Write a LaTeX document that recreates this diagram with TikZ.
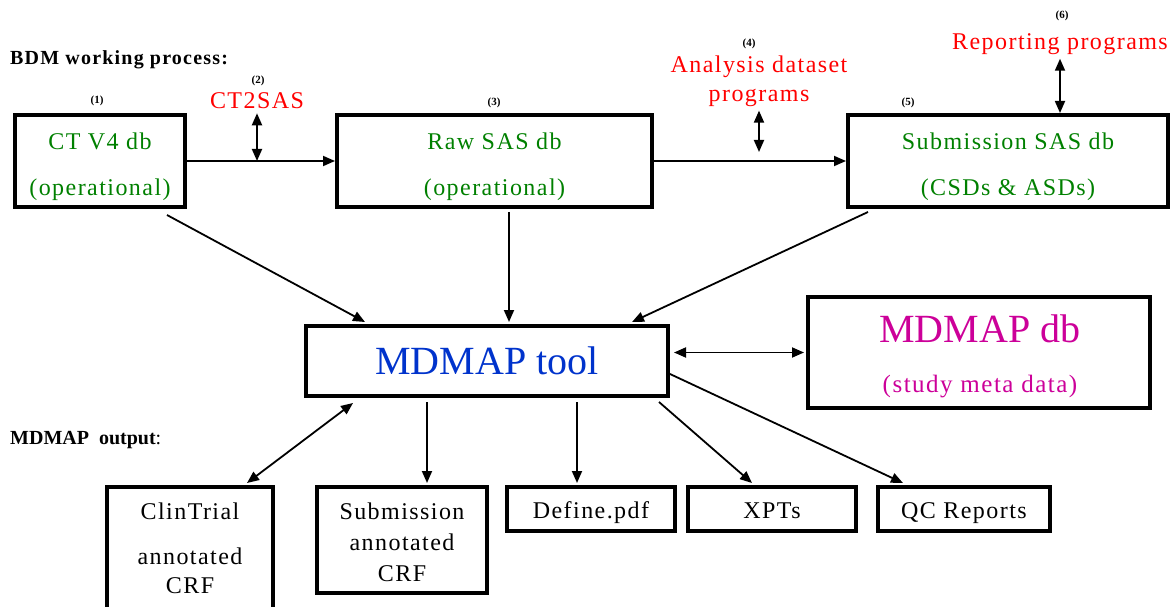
\documentclass[tikz,border=0pt]{standalone}
\usepackage{fontspec}
\setmainfont{Liberation Serif}
\newfontfamily\lsfont{Liberation Serif}[LetterSpace=6]
\usetikzlibrary{arrows.meta,calc}
\definecolor{dgreen}{RGB}{0,128,0}
\definecolor{toolblue}{RGB}{0,51,204}
\definecolor{mag}{RGB}{204,0,153}
\begin{document}
\begin{tikzpicture}[x=1pt,y=-1pt,
  box/.style={draw, line width=4pt, inner sep=0pt, align=center},
  tip/.tip={Triangle[length=12pt,width=10pt]},
  arr/.style={line width=1.8pt, -tip},
  darr/.style={line width=1.8pt, tip-tip},
  num/.style={font=\fontsize{11}{13}\selectfont\bfseries, inner sep=0pt},
  prog/.style={text=red, font=\lsfont\fontsize{24}{29}\selectfont, align=center, inner sep=0pt},
  gbox/.style={box, text=dgreen, font=\lsfont\fontsize{24}{46}\selectfont},
  obox/.style={box, font=\lsfont\fontsize{24}{31}\selectfont},
  sbox/.style={obox, text height=21pt, text depth=2pt},
  txt/.style={inner sep=0pt, font=\lsfont\fontsize{24}{29}\selectfont},
  head/.style={inner sep=0pt, anchor=west, font=\fontsize{20}{24}\selectfont}]
\useasboundingbox (0,0) rectangle (1171,607);

% headings
\node[head] (h1) at (10,60) {\lsfont\bfseries BDM working process:};
\node[head] (h2) at (10,440) {\textbf{MDMAP\hspace{10pt}output}:};

% numbers
\node[num] (n1) at (97,101) {(1)};
\node[num] (n2) at (258,81) {(2)};
\node[num] (n3) at (494,103) {(3)};
\node[num] (n4) at (749,44) {(4)};
\node[num] (n5) at (908,103) {(5)};
\node[num] (n6) at (1062,16) {(6)};

% programs
\node[prog] (p2) at (257,101) {CT2SAS};
\node[prog] (p4) at (759,81) {Analysis dataset\\programs};
\node[prog] (p6) at (1060,44) {Reporting programs};

% process boxes
\node[gbox, minimum width=170pt, minimum height=92pt] (ct) at (100,161) {\rule{0pt}{28pt}CT V4 db\\(operational)};
\node[gbox, minimum width=315pt, minimum height=92pt] (raw) at (494.5,161) {\rule{0pt}{28pt}Raw SAS db\\(operational)};
\node[gbox, minimum width=320pt, minimum height=92pt] (sub) at (1008,161) {\rule{0pt}{28pt}Submission SAS db\\(CSDs \& ASDs)};

% tool and db
\node[box, minimum width=362pt, minimum height=70pt, text=toolblue, font=\fontsize{40}{48}\selectfont] (tool) at (487,361) {MDMAP tool};
\node[box, minimum width=342pt, minimum height=111pt] (db) at (979,352.5) {};
\node[inner sep=0pt, text=mag, font=\fontsize{40}{48}\selectfont] (dbt1) at (980,329) {MDMAP db};
\node[inner sep=0pt, text=mag, font=\lsfont\fontsize{25}{30}\selectfont] (dbt2) at (980,387) {(study meta data)};

% output boxes
\node[box, minimum width=166pt, minimum height=140pt] (clin) at (190,557) {};
\node[txt] (clt1) at (190,511) {ClinTrial};
\node[txt] (clt2) at (190,556) {annotated};
\node[txt] (clt3) at (190,586) {CRF};
\node[obox, minimum width=170pt, minimum height=106pt] (scrf) at (402,540) {\rule{0pt}{22pt}Submission\\annotated\\CRF};
\node[sbox, minimum width=168pt, minimum height=44pt] (def) at (591,509) {Define.pdf};
\node[sbox, minimum width=168pt, minimum height=44pt] (xpt) at (772,509) {XPTs};
\node[sbox, minimum width=172pt, minimum height=44pt] (qc) at (964,509) {QC Reports};

% process flow
\draw[arr] (ct.east) -- (raw.west);
\draw[arr] (raw.east) -- (sub.west);
\draw[darr] ([yshift=-4pt]p2.south) -- (p2.south |- ct.east);
\draw[darr] ([yshift=-4pt]p4.south) -- ([yshift=9pt]p4.south |- raw.east);
\draw[darr] ([yshift=-4pt]p6.south) -- (p6.south |- sub.north);

% into tool
\draw[arr] ([xshift=-20pt,yshift=-6pt]ct.south east) -- ([xshift=61pt,yshift=2pt]tool.north west);
\draw[arr] ([xshift=14.5pt,yshift=-3pt]raw.south) -- ([xshift=14.5pt,yshift=2pt]raw.south |- tool.north);
\draw[arr] ([xshift=22pt,yshift=-3pt]sub.south west) -- ([xshift=-38pt,yshift=2pt]tool.north east);
\draw[darr] ([xshift=4pt]tool.east |- db.west) -- ([xshift=-2pt]db.west);

% out of tool
\draw[darr] ([xshift=49pt,yshift=-5pt]tool.south west) -- ([xshift=57pt,yshift=2pt]clin.north);
\draw[arr] ([xshift=-60pt,yshift=-4pt]tool.south) -- ([xshift=-60pt,yshift=2pt]tool.south |- scrf.north);
\draw[arr] ([xshift=90pt,yshift=-4pt]tool.south) -- ([xshift=90pt,yshift=2pt]tool.south |- def.north);
\draw[arr] ([xshift=-11pt,yshift=-4pt]tool.south east) -- ([xshift=-20pt,yshift=2pt]xpt.north);
\draw[arr] ([yshift=-13pt]tool.east) -- ([xshift=-61pt,yshift=2pt]qc.north);
\end{tikzpicture}
\end{document}
